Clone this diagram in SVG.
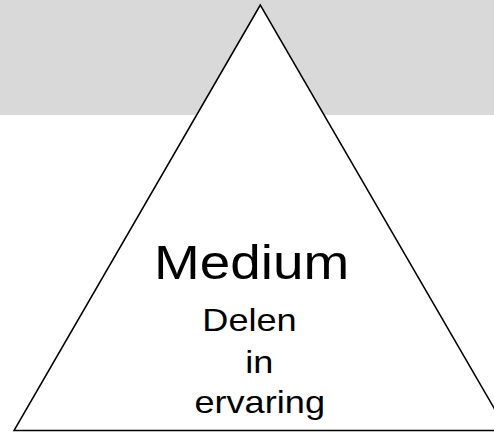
<svg xmlns="http://www.w3.org/2000/svg" width="494" height="432" viewBox="0 0 494 432">
  <style>
    .lbl { font-family: "Liberation Sans", Arial, sans-serif; fill: #000; text-anchor: middle; }
    .big { font-size: 49px; }
    .small { font-size: 32px; }
  </style>
  <rect x="0" y="0" width="494" height="432" fill="#ffffff"/>
  <!-- top band -->
  <rect id="band" x="0" y="0" width="494" height="115" fill="#d9d9d9"/>
  <!-- pyramid level -->
  <g id="pyramid">
    <polygon points="260.3,5 14,430.5 507,430.5" fill="#ffffff" stroke="#000000" stroke-width="1.5" stroke-linejoin="miter"/>
    <text class="lbl big" transform="translate(251.6,278.5) scale(1.12,1)">Medium</text>
    <text class="lbl small" transform="translate(249.5,331) scale(1.13,1)">Delen</text>
    <text class="lbl small" transform="translate(259.2,373) scale(1.13,1)">in</text>
    <text class="lbl small" transform="translate(259.7,412.7) scale(1.13,1)">ervaring</text>
  </g>
</svg>
